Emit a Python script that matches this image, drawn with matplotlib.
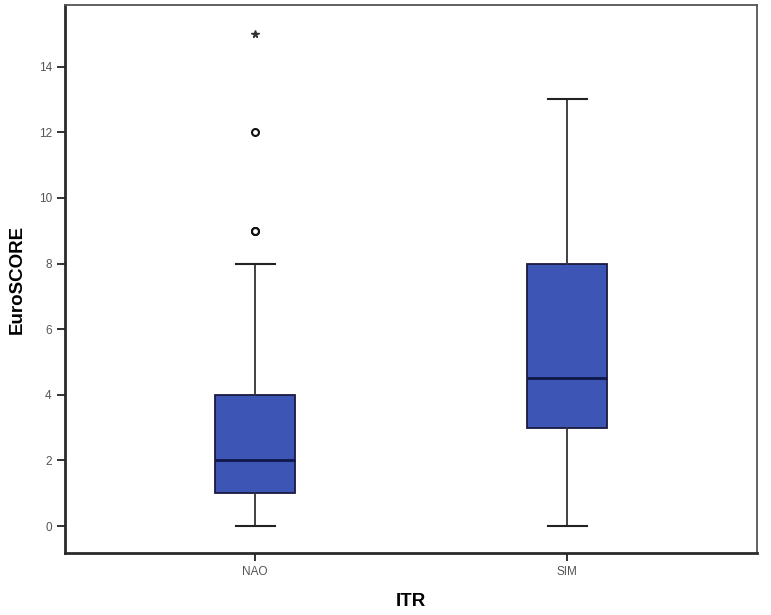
import matplotlib
matplotlib.use('Agg')
from matplotlib import pyplot as plt

plt.rcParams['font.family'] = ['Liberation Sans', 'DejaVu Sans']

# group summaries
groups = ['NAO', 'SIM']
whisker_low = [0, 0]
q1 = [1, 3]
medians = [2, 4.5]
q3 = [4, 8]
whisker_high = [8, 13]
outliers_circle = [[9, 9, 12], []]
outliers_star = [[15], []]

box_color = '#3d56b6'

stats = []
for i, name in enumerate(groups):
    stats.append({
        'label': name,
        'whislo': whisker_low[i],
        'q1': q1[i],
        'med': medians[i],
        'q3': q3[i],
        'whishi': whisker_high[i],
        'fliers': outliers_circle[i],
    })

fig = plt.figure(figsize=(7.71, 6.15), dpi=100)
ax = fig.add_axes([0.0843, 0.1008, 0.8977, 0.8912])

positions = [1, 2]
ax.bxp(stats, positions=positions, widths=0.256, patch_artist=True,
       boxprops=dict(facecolor=box_color, edgecolor='#1a1a40', linewidth=1.3),
       medianprops=dict(color='#10184a', linewidth=2),
       whiskerprops=dict(color='#333333', linewidth=1.3),
       capprops=dict(color='#222222', linewidth=1.5),
       capwidths=0.125,
       flierprops=dict(marker='o', markersize=5, markerfacecolor='white',
                       markeredgecolor='#111111', markeredgewidth=1.5))

for pos, stars in zip(positions, outliers_star):
    if stars:
        ax.plot([pos] * len(stars), stars, linestyle='none', marker='*',
                markersize=5.5, color='#333333')

ax.set_xlim(0.391, 2.609)
ax.set_ylim(-0.82, 15.88)
ax.set_yticks([0, 2, 4, 6, 8, 10, 12, 14])
ax.set_xticks(positions)
ax.set_xticklabels(groups)

ax.tick_params(axis='both', labelsize=8.5, labelcolor='#555555', color='#222222',
               width=1.3, length=6, direction='out')

for side in ['left', 'bottom']:
    ax.spines[side].set_linewidth(2)
    ax.spines[side].set_color('#2a2a2a')
for side in ['top', 'right']:
    ax.spines[side].set_linewidth(1.3)
    ax.spines[side].set_color('#555555')

ax.set_ylabel('EuroSCORE', fontsize=13.5, fontweight='bold', labelpad=9.5)
ax.set_xlabel('ITR', fontsize=13.5, fontweight='bold', labelpad=10.5)

fig.savefig('out.png', dpi=100)
